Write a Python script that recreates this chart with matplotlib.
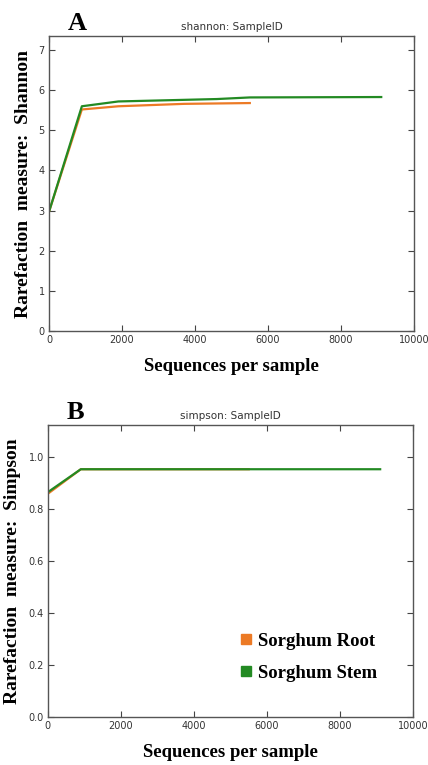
import matplotlib
matplotlib.use('Agg')
import matplotlib.pyplot as plt
from matplotlib.lines import Line2D

# rarefaction depths and measures
depth_root = [10, 900, 1900, 3700, 5500]
depth_stem = [10, 900, 1900, 3700, 4600, 5500, 9100]

shannon_root = [3.0, 5.52, 5.60, 5.66, 5.68]
shannon_stem = [3.0, 5.60, 5.72, 5.76, 5.78, 5.82, 5.83]

simpson_root = [0.86, 0.953, 0.953, 0.953, 0.953]
simpson_stem = [0.866, 0.953, 0.953, 0.953, 0.953, 0.953, 0.953]

labels = ['Sorghum Root', 'Sorghum Stem']
c_root = '#ec7a25'
c_stem = '#238a23'

serif = 'Liberation Serif'

fig = plt.figure(figsize=(4.28, 7.65), dpi=100)


def style(ax, ylim, yticks, title, ylabel):
    ax.set_xlim(0, 10000)
    ax.set_ylim(*ylim)
    ax.set_xticks([0, 2000, 4000, 6000, 8000, 10000])
    ax.set_yticks(yticks)
    ax.tick_params(direction='in', top=True, right=True, length=4,
                   labelsize=7, labelcolor='#333333', color='#444444', pad=3)
    for s in ax.spines.values():
        s.set_color('#555555')
        s.set_linewidth(1.0)
    ax.set_title(title, fontsize=7.5, color='#333333', pad=4)
    ax.set_xlabel('Sequences per sample', fontsize=13.5, fontweight='bold',
                  family=serif, labelpad=9)
    ax.set_ylabel(ylabel, fontsize=14, fontweight='bold', family=serif,
                  labelpad=5)


# panel A
ax1 = fig.add_axes([0.1145, 0.5673, 0.853, 0.3856])
ax1.plot(depth_root, shannon_root, color=c_root, lw=1.6)
ax1.plot(depth_stem, shannon_stem, color=c_stem, lw=1.6)
style(ax1, (0, 7.35), [0, 1, 2, 3, 4, 5, 6, 7], 'shannon: SampleID',
      'Rarefaction  measure:  Shannon')
ax1.text(0.05, 1.02, 'A', transform=ax1.transAxes, fontsize=19,
         fontweight='bold', family=serif)

# panel B
ax2 = fig.add_axes([0.112, 0.0627, 0.853, 0.3817])
ax2.plot(depth_root, simpson_root, color=c_root, lw=1.6)
ax2.plot(depth_stem, simpson_stem, color=c_stem, lw=1.6)
style(ax2, (0, 1.123), [0.0, 0.2, 0.4, 0.6, 0.8, 1.0], 'simpson: SampleID',
      'Rarefaction  measure:  Simpson')
ax2.text(0.05, 1.02, 'B', transform=ax2.transAxes, fontsize=19,
         fontweight='bold', family=serif)

handles = [Line2D([], [], marker='s', ls='none', color=c, markersize=6.5)
           for c in [c_root, c_stem]]
ax2.legend(handles, labels, loc='center left', bbox_to_anchor=(0.48, 0.205),
           frameon=False, handlelength=0.6, handletextpad=0.35,
           labelspacing=0.8, prop={'family': serif, 'weight': 'bold', 'size': 13.5})

fig.savefig('out.png', dpi=100)
